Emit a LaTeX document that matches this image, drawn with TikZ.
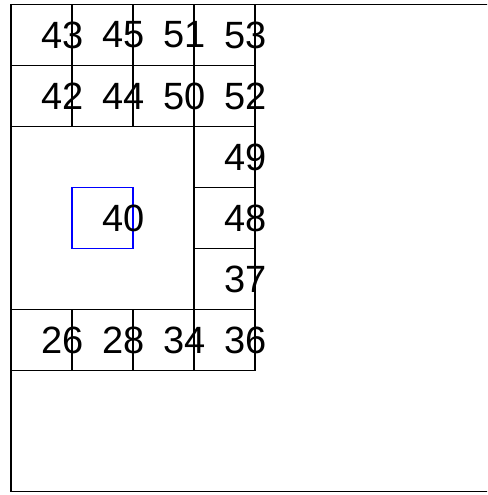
\documentclass[tikz,border=0pt]{standalone}
\usepackage{fontspec}
\setmainfont{Liberation Sans}
\begin{document}
\begin{tikzpicture}[x=1pt,y=-1pt,
  cell/.style={draw=black,line width=1.5pt,minimum width=61pt,minimum height=61pt,inner sep=0pt,outer sep=0pt},
  bigcell/.style={cell,minimum width=183pt,minimum height=183pt},
  bluebox/.style={cell,draw=blue},
  lbl/.style={font=\fontsize{38}{38}\selectfont,inner sep=0pt,text=black}]
\useasboundingbox (0,0) rectangle (487,495);
\clip (0,0) rectangle (487,495);
\draw[line width=1.5pt] (11,4.5) rectangle (520,491.7);
% row 0
\node[cell] (c43) at (41.5,35) {};
\node[cell] (c45) at (102.5,35) {};
\node[cell] (c51) at (163.5,35) {};
\node[cell] (c53) at (224.5,35) {};
% row 1
\node[cell] (c42) at (41.5,96) {};
\node[cell] (c44) at (102.5,96) {};
\node[cell] (c50) at (163.5,96) {};
\node[cell] (c52) at (224.5,96) {};
% big box
\node[bigcell] (c40) at (102.5,218) {};
\node[bluebox] (b40) at (102.5,218) {};
% right column
\node[cell] (c49) at (224.5,157) {};
\node[cell] (c48) at (224.5,218) {};
\node[cell] (c37) at (224.5,279) {};
% row 5
\node[cell] (c26) at (41.5,340) {};
\node[cell] (c28) at (102.5,340) {};
\node[cell] (c34) at (163.5,340) {};
\node[cell] (c36) at (224.5,340) {};
% labels
\foreach \n in {43,45,51,53,42,44,50,52,40,49,48,37,26,28,34,36}
  \node[lbl] (l\n) at ([xshift=21pt]c\n.center) {\n};
\end{tikzpicture}
\end{document}
